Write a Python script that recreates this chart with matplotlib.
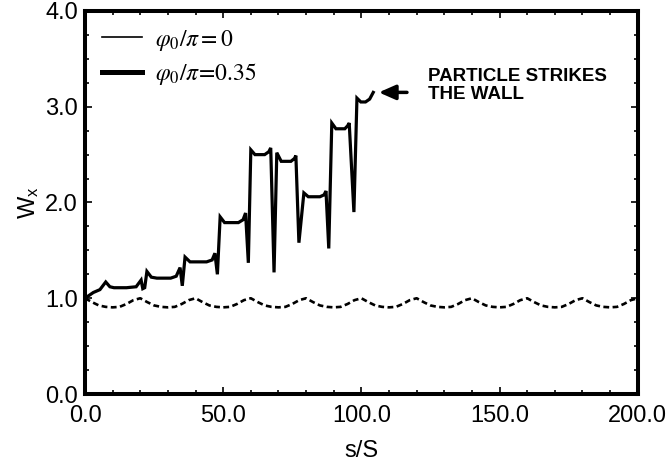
import numpy as np
import matplotlib
matplotlib.use('Agg')
from matplotlib import pyplot as plt
from matplotlib.lines import Line2D

# phi0/pi = 0.35 (thick solid)
s_035 = [0.0, 3.0, 5.4, 7.5, 9.0, 10.5, 15.0, 18.5, 20.3, 20.9, 21.6, 22.4,
         24.0, 26.0, 31.0, 33.0, 34.4, 35.2, 36.2, 38.0, 44.0, 46.0, 47.0,
         47.9, 48.9, 50.5, 55.5, 57.2, 58.1, 59.1, 60.0, 61.5, 65.0, 66.5,
         67.2, 68.4, 69.4, 71.0, 74.5, 75.8, 76.3, 77.4, 79.2, 80.8, 85.0,
         86.5, 87.2, 88.2, 89.3, 90.8, 94.0, 95.0, 95.6, 97.3, 98.4, 99.8,
         101.5, 103.0, 104.3]
w_035 = [1.00, 1.06, 1.09, 1.17, 1.12, 1.11, 1.11, 1.12, 1.19, 1.10, 1.11, 1.28,
         1.22, 1.21, 1.21, 1.23, 1.32, 1.13, 1.43, 1.38, 1.38, 1.40, 1.47,
         1.25, 1.85, 1.79, 1.79, 1.82, 1.89, 1.37, 2.55, 2.50, 2.50, 2.53,
         2.57, 1.27, 2.52, 2.43, 2.43, 2.46, 2.49, 1.58, 2.10, 2.06, 2.06,
         2.08, 2.12, 1.52, 2.83, 2.77, 2.77, 2.80, 2.83, 1.90, 3.09, 3.05,
         3.05, 3.08, 3.15]

# phi0/pi = 0 (dashed), sampled every 2.5 units of s/S
s_0 = np.arange(0, 200.1, 2.5)
w_0 = [1.00, 0.96, 0.925, 0.91, 0.905, 0.91, 0.94, 0.98,
       1.00, 0.96, 0.925, 0.91, 0.905, 0.91, 0.94, 0.98,
       1.00, 0.96, 0.925, 0.91, 0.905, 0.91, 0.94, 0.98,
       1.00, 0.96, 0.925, 0.91, 0.905, 0.91, 0.94, 0.98,
       1.00, 0.96, 0.925, 0.91, 0.905, 0.91, 0.94, 0.98,
       1.00, 0.96, 0.925, 0.91, 0.905, 0.91, 0.94, 0.98,
       1.00, 0.96, 0.925, 0.91, 0.905, 0.91, 0.94, 0.98,
       1.00, 0.96, 0.925, 0.91, 0.905, 0.91, 0.94, 0.98,
       1.00, 0.96, 0.925, 0.91, 0.905, 0.91, 0.94, 0.98,
       1.00, 0.96, 0.925, 0.91, 0.905, 0.91, 0.94, 0.98,
       1.00]

x_ticks = [0, 50, 100, 150, 200]
y_ticks = [0, 1, 2, 3, 4]
legend_labels = [r'$\varphi_0/\pi=0$', r'$\varphi_0/\pi\!=\!0.35$']
note = 'PARTICLE STRIKES\nTHE WALL'

plt.rcParams['font.family'] = ['Liberation Sans', 'DejaVu Sans']
plt.rcParams['mathtext.fontset'] = 'stix'

fig = plt.figure(figsize=(6.72, 4.70), dpi=100)
ax = fig.add_axes([0.1265, 0.1617, 0.8225, 0.8149])

ax.plot(s_0, w_0, color='black', lw=1.9, dashes=(2.2, 1.3))
ax.plot(s_035, w_035, color='black', lw=2.3, solid_joinstyle='miter')

ax.set_xlim(0, 200)
ax.set_ylim(0, 4)
ax.set_xticks(x_ticks)
ax.set_yticks(y_ticks)
ax.set_xticklabels(['%.1f' % v for v in x_ticks])
ax.set_yticklabels(['%.1f' % v for v in y_ticks])
ax.set_xticks(np.arange(0, 201, 10), minor=True)
ax.set_yticks(np.arange(0, 4.01, 0.25), minor=True)
ax.tick_params(which='both', direction='in', top=True, right=True,
               labelsize=17, width=1.2)
ax.tick_params(which='major', length=5)
ax.tick_params(which='minor', length=3)
ax.tick_params(axis='y', pad=5)
ax.tick_params(axis='x', pad=8)
for sp in ax.spines.values():
    sp.set_linewidth(2.9)

ax.set_xlabel('s/S', fontsize=17, labelpad=9)
ax.set_ylabel(r'W$_\mathregular{x}$', fontsize=17, labelpad=3)

handles = [Line2D([], [], color='black', lw=1.2),
           Line2D([], [], color='black', lw=3.6)]
ax.legend(handles, legend_labels, loc='upper left', frameon=False,
          fontsize=17, handlelength=1.7, handletextpad=0.55,
          labelspacing=0.35, bbox_to_anchor=(0.0, 1.0), borderaxespad=0.3)

ax.annotate('', xy=(106.3, 3.15), xytext=(116.5, 3.15),
            arrowprops=dict(arrowstyle='-|>,head_length=0.5,head_width=0.22',
                            lw=2.5, color='black', shrinkA=0, shrinkB=0,
                            mutation_scale=20))
ax.text(124, 3.225, note, fontsize=13.5, fontweight='bold', va='center',
        ha='left', linespacing=1.1)

fig.savefig('out.png', dpi=100)
